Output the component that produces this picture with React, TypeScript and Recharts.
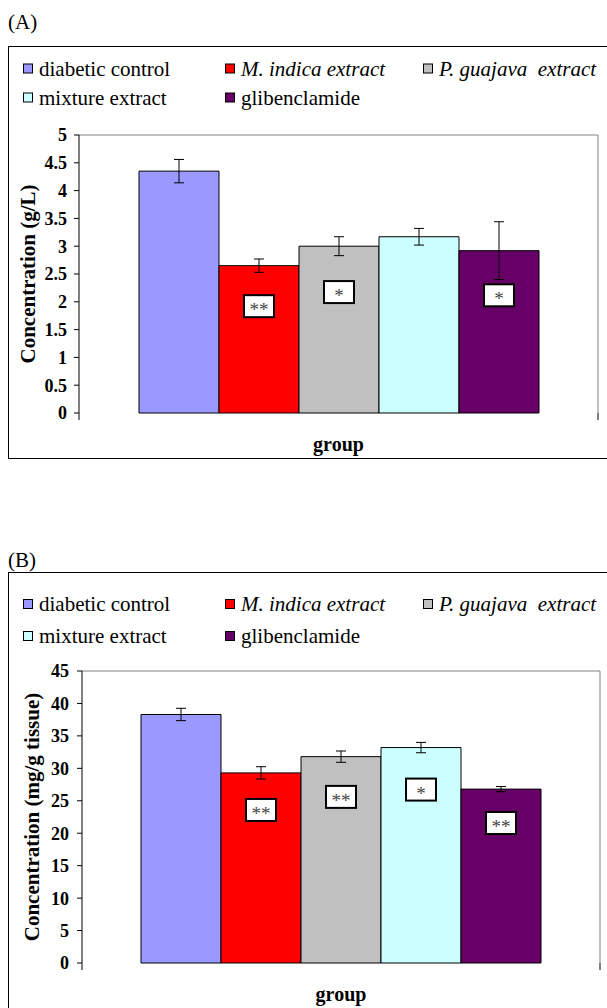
import {
  BarChart,
  Bar,
  XAxis,
  YAxis,
  ErrorBar,
  LabelList,
  Legend,
  ReferenceLine,
  Label,
} from "recharts";

const FONT = "'Liberation Serif', 'Times New Roman', serif";

// groups (series) shared by both panels
const groups = [
  "diabetic control",
  "M. indica extract",
  "P. guajava  extract",
  "mixture extract",
  "glibenclamide",
];
const keys = ["control", "indica", "guajava", "mixture", "glib"];
const colors = ["#9999FF", "#FF0000", "#C0C0C0", "#CCFFFF", "#660066"];
const italic = [false, true, true, false, false];

// panel A: concentration (g/L)
const valuesA = [4.35, 2.65, 3.0, 3.17, 2.92];
const errorsA = [0.21, 0.12, 0.17, 0.15, 0.52];
const starsA = ["", "**", "*", "", "*"];
const ticksA = [0, 0.5, 1, 1.5, 2, 2.5, 3, 3.5, 4, 4.5, 5];

// panel B: concentration (mg/g tissue)
const valuesB = [38.3, 29.3, 31.8, 33.2, 26.8];
const errorsB = [0.95, 0.95, 0.87, 0.8, 0.4];
const starsB = ["", "**", "**", "*", "**"];
const ticksB = [0, 5, 10, 15, 20, 25, 30, 35, 40, 45];

const buildRow = (values: number[], errors: number[], stars: string[]) => {
  const row: Record<string, any> = { group: "group", edge: 0 };
  keys.forEach((k, i) => {
    row[k] = values[i];
    row[k + "Err"] = errors[i];
    row[k + "Star"] = stars[i];
  });
  return [row];
};

// white box with asterisks sitting inside a bar
const StarBox = (props: any) => {
  const vb = props.viewBox ?? props;
  const { x, y, width, height } = vb;
  const value = props.value;
  if (!value) return null;
  const cx = x + width / 2;
  const cy = y + height * props.frac;
  return (
    <g>
      <rect x={cx - 15} y={cy - 11} width={30} height={22} fill="#fff" stroke="#000" strokeWidth={2} />
      <text x={cx} y={cy + 10} textAnchor="middle" fontSize={19} fill="#444" fontFamily={FONT}>
        {value}
      </text>
    </g>
  );
};

const YTitle = (props: any) => {
  const { x, y, height } = props.viewBox;
  const cx = x + props.dx;
  const cy = y + height / 2;
  return (
    <text
      x={cx}
      y={cy}
      transform={`rotate(-90 ${cx} ${cy})`}
      textAnchor="middle"
      dominantBaseline="central"
      fontFamily={FONT}
      fontWeight="bold"
      fontSize={21}
      fill="#000"
    >
      {props.text}
    </text>
  );
};

const XTitle = (props: any) => {
  const { x, y, width } = props.viewBox;
  return (
    <text
      x={x + width / 2}
      y={y + props.dy}
      textAnchor="middle"
      dominantBaseline="central"
      fontFamily={FONT}
      fontWeight="bold"
      fontSize={20}
      fill="#000"
    >
      group
    </text>
  );
};

// legend drawn as svg so it shares the serif font with the axes
const LegendBox = ({ rowH, boxH, boxW }: { rowH: number; boxH: number; boxW: number }) => {
  const colLeft = [15, 217, 415];
  return (
    <svg width={boxW} height={boxH} style={{ display: "block" }}>
      {groups.map((g, i) => {
        const x = colLeft[i % 3];
        const cy = Math.floor(i / 3) * rowH + rowH / 2;
        return (
          <g key={g}>
            <rect x={x + 0.5} y={cy - 4.5} width={9} height={9} fill={colors[i]} stroke="#000" />
            <text
              x={x + 16}
              y={cy + 7}
              fontFamily={FONT}
              fontSize={21}
              fontStyle={italic[i] ? "italic" : "normal"}
              fill="#000"
              style={{ whiteSpace: "pre" }}
            >
              {g}
            </text>
          </g>
        );
      })}
    </svg>
  );
};

type PanelProps = {
  tag: string;
  tagTop: number;
  frameTop: number;
  frameHeight: number;
  values: number[];
  errors: number[];
  stars: string[];
  ticks: number[];
  yTitle: string;
  yWidth: number;
  yTitleX: number;
  legendTop: number;
  legendH: number;
  rowH: number;
  bottom: number;
  right: number;
  starFrac: number;
  tickMargin: number;
};

const Panel = (p: PanelProps) => {
  const data = buildRow(p.values, p.errors, p.stars);
  const chartW = 605;
  const yMax = p.ticks[p.ticks.length - 1];
  return (
    <>
      <svg
        width={60}
        height={30}
        style={{ position: "absolute", left: 8, top: p.tagTop }}
      >
        <text x={0} y={21} fontFamily={FONT} fontSize={21} fill="#000">
          {p.tag}
        </text>
      </svg>
      <div
        style={{
          position: "absolute",
          left: 8,
          top: p.frameTop,
          width: chartW,
          height: p.frameHeight,
          border: "1px solid #000",
          boxSizing: "border-box",
        }}
      />
      <div style={{ position: "absolute", left: 8, top: p.frameTop }}>
        <BarChart
          width={chartW}
          height={p.frameHeight}
          data={data}
          barSize={80}
          barGap={0}
          margin={{ top: p.legendTop, right: p.right, bottom: 0, left: 0 }}
        >
          <Legend
            verticalAlign="top"
            align="left"
            content={<LegendBox rowH={p.rowH} boxH={p.legendH} boxW={chartW} />}
          />
          <XAxis
            dataKey="group"
            height={0}
            tick={false}
            tickLine={false}
            axisLine={{ stroke: "#000" }}
          />
          {/* end ticks of the category axis, as in the spreadsheet chart */}
          <XAxis
            xAxisId="edge"
            dataKey="edge"
            type="number"
            domain={[0, 1]}
            allowDataOverflow
            ticks={[0, 1]}
            interval={0}
            tick={<g />}
            tickSize={7}
            tickLine={{ stroke: "#000" }}
            axisLine={false}
            height={p.bottom}
          >
            <Label content={<XTitle dy={31} />} />
          </XAxis>
          <YAxis
            width={p.yWidth}
            domain={[p.ticks[0], yMax]}
            ticks={p.ticks}
            interval={0}
            tickSize={5}
            tickMargin={p.tickMargin}
            axisLine={{ stroke: "#000" }}
            tickLine={{ stroke: "#000" }}
            tick={{ fill: "#000", fontFamily: FONT, fontWeight: "bold", fontSize: 18 }}
          >
            <Label content={<YTitle dx={p.yTitleX} text={p.yTitle} />} />
          </YAxis>
          {/* plot-area border, top and right */}
          <ReferenceLine y={yMax} stroke="#808080" />
          <ReferenceLine xAxisId="edge" x={1} stroke="#808080" ifOverflow="visible" />
          {keys.map((k, i) => (
            <Bar
              key={k}
              dataKey={k}
              name={groups[i]}
              fill={colors[i]}
              stroke="#000"
              strokeWidth={1}
              isAnimationActive={false}
            >
              <ErrorBar dataKey={k + "Err"} width={5} stroke="#000" strokeWidth={1} />
              <LabelList dataKey={k + "Star"} content={<StarBox frac={p.starFrac} />} />
            </Bar>
          ))}
        </BarChart>
      </div>
    </>
  );
};

export default function App() {
  return (
    <div
      style={{
        position: "absolute",
        left: 0,
        top: 0,
        width: 607,
        height: 1008,
        overflow: "hidden",
        background: "#fff",
      }}
    >
      <Panel
        tag="(A)"
        tagTop={8}
        frameTop={46}
        frameHeight={413}
        values={valuesA}
        errors={errorsA}
        stars={starsA}
        ticks={ticksA}
        yTitle="Concentration (g/L)"
        yWidth={71}
        yTitleX={20}
        legendTop={8}
        legendH={81}
        rowH={29}
        bottom={46}
        right={15}
        starFrac={0.275}
        tickMargin={7}
      />
      <Panel
        tag="(B)"
        tagTop={546}
        frameTop={572}
        frameHeight={450}
        values={valuesB}
        errors={errorsB}
        stars={starsB}
        ticks={ticksB}
        yTitle="Concentration (mg/g tissue)"
        yWidth={74}
        yTitleX={24}
        legendTop={16}
        legendH={83}
        rowH={32}
        bottom={59}
        right={13}
        starFrac={0.195}
        tickMargin={8}
      />
    </div>
  );
}
